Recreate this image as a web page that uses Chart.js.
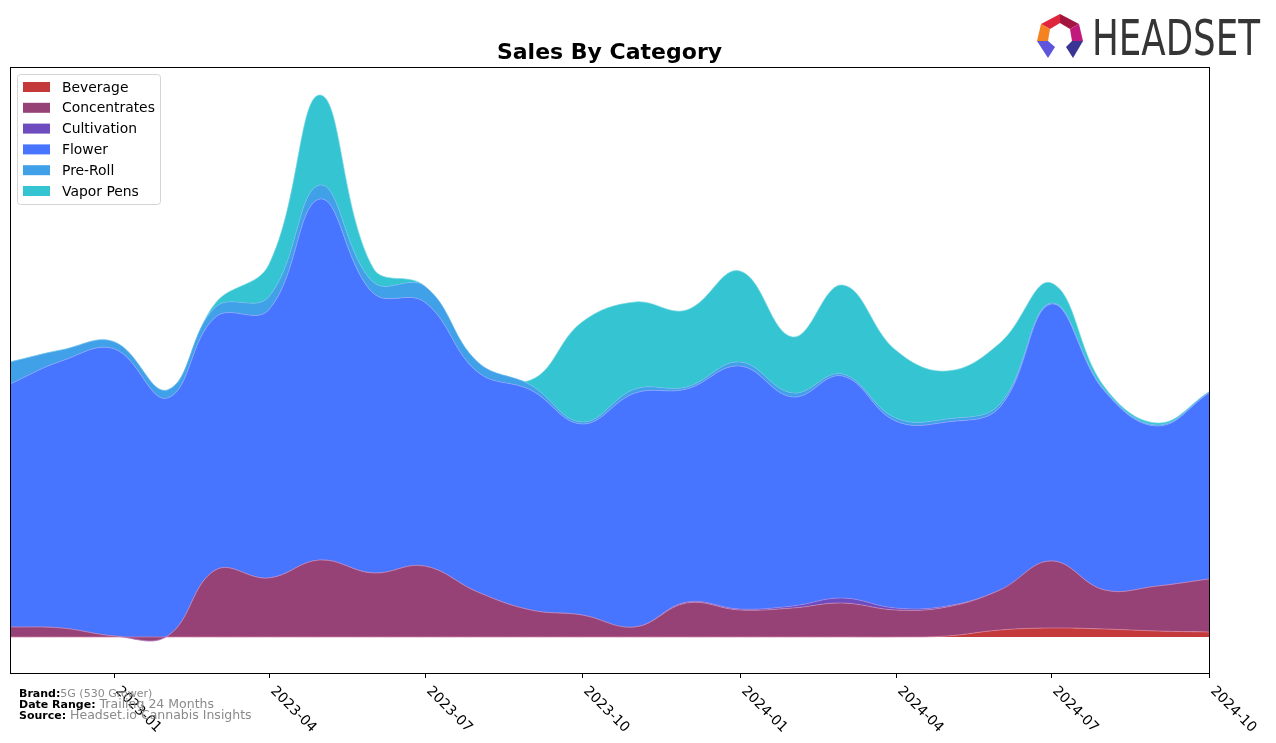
<!DOCTYPE html>
<html>
<head>
<meta charset="utf-8">
<title>Sales By Category</title>
<script src="https://cdn.jsdelivr.net/npm/chart.js@4.4.0/dist/chart.umd.min.js"></script>
<style>
  html, body { margin: 0; padding: 0; background: #fff; }
  #wrap { width: 1276px; height: 743px; position: relative; }
</style>
</head>
<body>
<div id="wrap"><canvas id="chart" width="1276" height="743"></canvas></div>
<script>
// monthly points, Nov 2022 .. Oct 2024
const months = ['2022-11','2022-12','2023-01','2023-02','2023-03','2023-04','2023-05','2023-06',
  '2023-07','2023-08','2023-09','2023-10','2023-11','2023-12','2024-01','2024-02','2024-03',
  '2024-04','2024-05','2024-06','2024-07','2024-08','2024-09','2024-10'];
const tickLabels = ['2023-01','2023-04','2023-07','2023-10','2024-01','2024-04','2024-07','2024-10'];

// values (same arbitrary unit for all)
const beverage     = [0,0,0,0,0,0,0,0,0,0,0,0,0,0,0,0,0,0,1,7,9,8,6,5];
const concentrates = [10,9,1,1,67,59,77,64,71,45,27,22,10,34,27,29,34,27,29,40,67,39,45,53];
const cultivation  = [0,0,0,0,0,0,0,0,0,0,0,0,0,1,1,2,5,2,1,0,0,0,0,0];
const flower       = [243,267,287,238,253,268,361,280,264,220,220,191,234,213,243,209,222,187,184,183,257,199,160,186];
const preRoll      = [22,11,7,8,10,13,14,11,16,10,5,2,4,2,4,4,2,3,3,3,1,1,1,1];
const vaporPens    = [0,0,0,0,4,32,90,14,0,0,5,100,87,77,91,56,89,68,48,61,20,3,2,0];

const categories = ['Beverage','Concentrates','Cultivation','Flower','Pre-Roll','Vapor Pens'];
const colors = ['#c43a3a','#964277','#6e4cc0','#4775ff','#40a0e8','#35c4d2'];
const edges  = ['rgba(215,130,165,0.9)','rgba(200,140,190,0.8)','rgba(160,140,230,0.8)',
  'rgba(150,170,255,0.8)','rgba(120,190,240,0.8)','rgba(120,215,225,0.8)'];
const series = [beverage, concentrates, cultivation, flower, preRoll, vaporPens];

function dayOf(ym) {
  const [y, m] = ym.split('-').map(Number);
  return (Date.UTC(y, m - 1, 1) - Date.UTC(2022, 10, 1)) / 86400000;
}

const datasets = categories.map((name, i) => ({
  label: name,
  data: months.map((m, j) => ({ x: dayOf(m), y: series[i][j] })),
  backgroundColor: colors[i],
  borderColor: edges[i],
  borderWidth: 0.8,
  pointRadius: 0,
  tension: 0.4,
  fill: i === 0 ? 'origin' : '-1'
}));

const decor = {
  id: 'decor',
  afterDraw(chart) {
    const ctx = chart.ctx;
    const a = chart.chartArea;
    const xs = chart.scales.x;
    ctx.save();

    // frame
    ctx.strokeStyle = '#000';
    ctx.lineWidth = 1;
    ctx.strokeRect(Math.round(a.left) + 0.5, Math.round(a.top) + 0.5,
      Math.round(a.right - a.left), Math.round(a.bottom - a.top));

    // x ticks + rotated labels
    ctx.font = '14px "DejaVu Sans", sans-serif';
    ctx.fillStyle = '#000';
    ctx.textAlign = 'left';
    ctx.textBaseline = 'top';
    tickLabels.forEach(t => {
      const px = Math.round(xs.getPixelForValue(dayOf(t))) + 0.5;
      ctx.beginPath();
      ctx.moveTo(px, a.bottom);
      ctx.lineTo(px, a.bottom + 5);
      ctx.stroke();
      ctx.save();
      ctx.translate(px + 8, a.bottom + 11);
      ctx.rotate(Math.PI / 4);
      ctx.fillText(t, 0, 0);
      ctx.restore();
    });

    // title
    ctx.font = 'bold 22px "DejaVu Sans", sans-serif';
    ctx.textAlign = 'center';
    ctx.textBaseline = 'middle';
    ctx.fillText('Sales By Category', (a.left + a.right) / 2, 53);

    // legend
    const lx = 17, ly = 74, lw = 143, lh = 130;
    ctx.beginPath();
    ctx.roundRect(lx + 0.5, ly + 0.5, lw, lh, 3);
    ctx.fillStyle = 'rgba(255,255,255,0.85)';
    ctx.fill();
    ctx.strokeStyle = '#d5d5d5';
    ctx.stroke();
    ctx.font = '13.9px "DejaVu Sans", sans-serif';
    ctx.textAlign = 'left';
    ctx.textBaseline = 'middle';
    categories.forEach((name, i) => {
      const cy = 87 + i * 20.8;
      ctx.fillStyle = colors[i];
      ctx.fillRect(23, cy - 5, 27, 10);
      ctx.fillStyle = '#000';
      ctx.fillText(name, 62, cy + 1);
    });

    // footer
    const foot = [['Brand:', '5G (530 Grower)', 11], ['Date Range:', 'Trailing 24 Months', 12.5],
      ['Source:', 'Headset.io Cannabis Insights', 12.5]];
    foot.forEach((f, i) => {
      const y = 694 + i * 11;
      ctx.font = 'bold 11px "DejaVu Sans", sans-serif';
      ctx.fillStyle = '#000';
      ctx.fillText(f[0], 19, y);
      const w = ctx.measureText(f[0]).width;
      ctx.font = f[2] + 'px "DejaVu Sans", sans-serif';
      ctx.fillStyle = '#8a8a8a';
      ctx.fillText(f[1], 19 + w + (i === 0 ? 0 : 4), y);
    });

    // logo mark
    const poly = (pts, c) => {
      ctx.beginPath();
      ctx.moveTo(pts[0][0], pts[0][1]);
      pts.slice(1).forEach(p => ctx.lineTo(p[0], p[1]));
      ctx.closePath();
      ctx.fillStyle = c;
      ctx.fill();
    };
    poly([[1041,24],[1060,14],[1060,23],[1050,29]], '#e0263c');
    poly([[1060,14],[1079,24],[1070,29],[1060,23]], '#a3153f');
    poly([[1079,24],[1083,41],[1072,41],[1070,29]], '#c2197c');
    poly([[1041,24],[1050,29],[1048,41],[1037,41]], '#f58220');
    poly([[1037,41],[1048,41],[1055,47],[1048,58]], '#5d55dc');
    poly([[1072,41],[1083,41],[1073,58],[1066,47]], '#3a3495');

    // logo word
    ctx.font = '50px "Liberation Sans Narrow", "DejaVu Sans Condensed", "DejaVu Sans", sans-serif';
    ctx.textBaseline = 'alphabetic';
    ctx.textAlign = 'left';
    const tw = ctx.measureText('HEADSET').width;
    ctx.save();
    ctx.translate(1092, 55);
    ctx.scale(168 / tw, 1);
    ctx.fillStyle = '#353535';
    ctx.fillText('HEADSET', 0, 0);
    ctx.restore();

    ctx.restore();
  }
};

new Chart(document.getElementById('chart'), {
  type: 'line',
  data: { datasets },
  options: {
    responsive: false,
    animation: false,
    layout: { padding: { left: 10, right: 67, top: 67, bottom: 70 } },
    scales: {
      x: { type: 'linear', min: 0, max: dayOf('2024-10'), display: false },
      y: { stacked: true, min: -36, max: 570, display: false }
    },
    plugins: { legend: { display: false }, title: { display: false }, tooltip: { enabled: false } }
  },
  plugins: [decor]
});
</script>
</body>
</html>
